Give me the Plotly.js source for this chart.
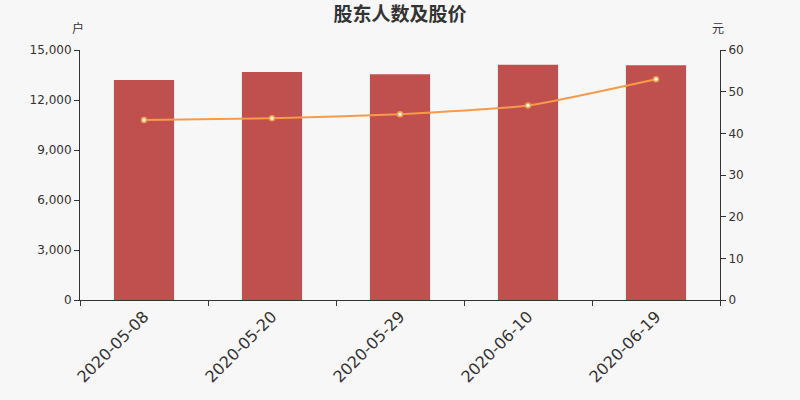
<!DOCTYPE html>
<html>
<head>
<meta charset="utf-8">
<script src="https://cdn.plot.ly/plotly-3.0.1.min.js"></script>
<style>
  html, body { margin: 0; padding: 0; background: #f7f7f7; }
  #chart { width: 800px; height: 400px; }
</style>
</head>
<body>
<div id="chart"></div>
<script>
var dates = ['2020-05-08', '2020-05-20', '2020-05-29', '2020-06-10', '2020-06-19'];
var holders = [13200, 13680, 13540, 14120, 14080];
var price = [43.2, 43.6, 44.6, 46.7, 53.0];

var barTrace = {
  x: dates,
  y: holders,
  type: 'bar',
  name: '股东人数',
  width: 0.47,
  marker: { color: '#c0504d' },
  hoverinfo: 'x+y'
};

var lineTrace = {
  x: dates,
  y: price,
  type: 'scatter',
  mode: 'lines+markers',
  name: '股价',
  yaxis: 'y2',
  line: { color: '#f89a4a', width: 2, shape: 'spline', smoothing: 0.5 },
  marker: { color: '#ffffff', size: 5, line: { color: '#f89a4a', width: 1.5 } }
};

var font = "'Noto Sans CJK SC', 'DejaVu Sans', sans-serif";

var layout = {
  width: 800,
  height: 400,
  paper_bgcolor: '#f7f7f7',
  plot_bgcolor: '#f7f7f7',
  showlegend: false,
  margin: { l: 80, r: 80, t: 50, b: 100 },
  font: { family: font, color: '#333333' },
  title: {
    text: '<b>股东人数及股价</b>',
    x: 0.5,
    y: 0.965,
    yanchor: 'middle',
    xanchor: 'center',
    font: { size: 19, color: '#333333', family: font }
  },
  xaxis: {
    type: 'category',
    showline: true,
    linecolor: '#333333',
    linewidth: 1,
    ticks: 'outside',
    tickson: 'boundaries',
    ticklen: 5,
    tickcolor: '#333333',
    tickangle: -45,
    tickfont: { size: 16, color: '#333333', family: 'DejaVu Sans' },
    showgrid: false,
    zeroline: false
  },
  yaxis: {
    range: [0, 15000],
    tickvals: [0, 3000, 6000, 9000, 12000, 15000],
    tickformat: ',d',
    showline: true,
    linecolor: '#333333',
    ticks: 'outside',
    ticklen: 5,
    tickcolor: '#333333',
    tickfont: { size: 12, color: '#333333', family: 'DejaVu Sans' },
    showgrid: false,
    zeroline: false
  },
  yaxis2: {
    overlaying: 'y',
    side: 'right',
    range: [0, 60],
    tickvals: [0, 10, 20, 30, 40, 50, 60],
    showline: true,
    linecolor: '#333333',
    ticks: 'outside',
    ticklen: 5,
    tickcolor: '#333333',
    tickfont: { size: 12, color: '#333333', family: 'DejaVu Sans' },
    showgrid: false,
    zeroline: false
  },
  annotations: [
    { text: '户', xref: 'paper', yref: 'paper', x: -0.003, y: 1.088, xanchor: 'center', yanchor: 'middle', showarrow: false, font: { size: 12, color: '#333333', family: font } },
    { text: '元', xref: 'paper', yref: 'paper', x: 0.997, y: 1.088, xanchor: 'center', yanchor: 'middle', showarrow: false, font: { size: 12, color: '#333333', family: font } }
  ]
};

Plotly.newPlot('chart', [barTrace, lineTrace], layout, { displayModeBar: false });
</script>
</body>
</html>
